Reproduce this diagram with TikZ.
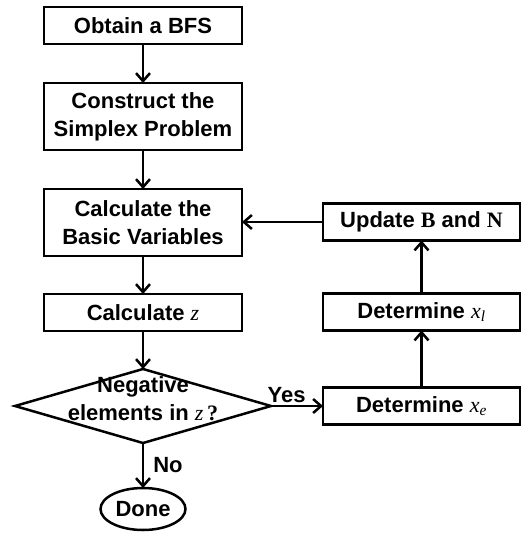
\documentclass[tikz,border=0pt]{standalone}
\usepackage{fontspec}
\setmainfont{Liberation Sans}
\newfontfamily\tmsfont{Liberation Serif}
\usetikzlibrary{arrows.meta,positioning,shapes.geometric}
\newcommand{\mv}[1]{{\tmsfont\mdseries\itshape #1}}
\newcommand{\mb}[1]{{\tmsfont\bfseries #1}}

\begin{document}
\begin{tikzpicture}[
  x=1pt,y=1pt,
  node distance=39pt,
  every node/.style={font=\fontsize{22}{28}\selectfont\bfseries,outer sep=0pt},
  box/.style={draw,line width=2.5pt,align=center,minimum width=198pt,
              minimum height=37pt,inner sep=3pt},
  tallbox/.style={box,minimum height=67pt},
  decision/.style={draw,diamond,line width=2.5pt,minimum width=256pt,
                   minimum height=74pt,inner sep=0pt},
  term/.style={draw,ellipse,line width=2.5pt,minimum width=85pt,
               minimum height=42pt,inner sep=0pt},
  arr/.style={-{Straight Barb[length=8pt,width=14pt]},line width=2.5pt}
]
\useasboundingbox (0,0) rectangle (520,-533);
\node[box] (bfs) at (143,-25.5) {Obtain a BFS};
\node[tallbox,below=of bfs] (cons) {Construct the\\Simplex Problem};
\node[tallbox,below=of cons] (basic) {Calculate the\\Basic Variables};
\node[box,below=38pt of basic] (calcz) {Calculate \mv{z}};
\node[decision,below=38pt of calcz] (neg) {};
\node[align=center] (negtxt) at ([yshift=7pt]neg.center) {Negative\\elements in \mv{z}\,{\tmsfont ?}};
\node[term,below=45pt of neg] (done) {Done};
\node[box,minimum width=197pt,right=52pt of neg] (xe) {Determine \mv{x}\textsubscript{\mv{e}}};
\node[box,minimum width=197pt,above=57pt of xe] (xl) {Determine \mv{x}\textsubscript{\mv{l}}};
\node[box,minimum width=197pt,above=53pt of xl] (upd) {Update \mb{B} and \mb{N}};
\draw[arr] (bfs) -- (cons);
\draw[arr] (cons) -- (basic);
\draw[arr] (basic) -- (calcz);
\draw[arr] (calcz) -- (neg);
\draw[arr] (neg) -- (done) node[right,midway,xshift=7pt] (nolbl) {No};
\draw[arr] (neg) -- (xe) node[above,pos=0.3,inner sep=3pt] (yeslbl) {Yes};
\draw[arr] (xe) -- (xl);
\draw[arr] (xl) -- (upd);
\draw[arr] (upd.west) -- (upd.west -| basic.east);
\end{tikzpicture}
\end{document}
